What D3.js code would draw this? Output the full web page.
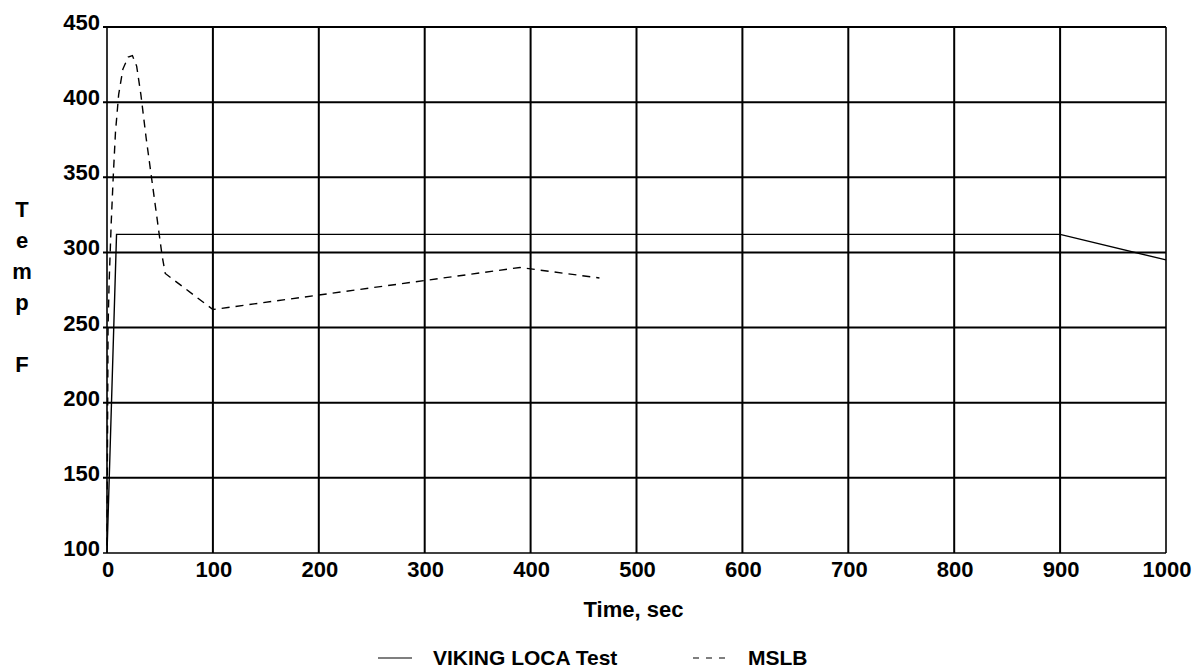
<!DOCTYPE html>
<html>
<head>
<meta charset="utf-8">
<script src="https://cdn.jsdelivr.net/npm/d3@7"></script>
<style>
  body { margin: 0; background: #fff; }
  text { font-family: "Liberation Sans", Arial, sans-serif; font-weight: bold; fill: #000; }
</style>
</head>
<body>
<svg id="chart" width="1197" height="671"></svg>
<script>
// time (sec) ticks and temperature (F) ticks
const xTicks = [0, 100, 200, 300, 400, 500, 600, 700, 800, 900, 1000];
const yTicks = [100, 150, 200, 250, 300, 350, 400, 450];

// VIKING LOCA Test, solid
const vikingTime = [0, 9, 900, 1000];
const vikingTemp = [100, 312, 312, 295];

// MSLB, dashed
const mslbTime = [0, 1, 2, 4, 6, 8, 11, 15, 20, 24, 28, 32, 37, 42, 47, 52, 55, 100, 390, 465];
const mslbTemp = [105, 250, 280, 320, 352, 380, 405, 422, 430, 431, 424, 405, 376, 350, 324, 298, 286, 262, 290, 283];

const yTitle = ["T", "e", "m", "p", "", "F"];

const svg = d3.select('#chart');
const margin = {left: 107, top: 27, right: 1166, bottom: 553};

const x = d3.scaleLinear().domain([0, 1000]).range([margin.left, margin.right]);
const y = d3.scaleLinear().domain([100, 450]).range([margin.bottom, margin.top]);

// grid
const grid = svg.append('g');
grid.selectAll('line.v')
    .data(xTicks).enter()
    .append('line')
    .attr('x1', d => x(d)).attr('x2', d => x(d))
    .attr('y1', y(100)).attr('y2', y(450))
    .attr('stroke', '#000')
    .attr('stroke-width', d => (d === 0 || d === 1000) ? 1.6 : 2);
grid.selectAll('line.h')
    .data(yTicks).enter()
    .append('line')
    .attr('x1', x(0) - 4).attr('x2', x(1000))
    .attr('y1', d => y(d)).attr('y2', d => y(d))
    .attr('stroke', '#000')
    .attr('stroke-width', d => d === 100 ? 1.4 : 2);

// tick labels
svg.append('g').selectAll('text')
    .data(yTicks).enter()
    .append('text')
    .attr('x', 100)
    .attr('y', d => y(d) + 3)
    .attr('text-anchor', 'end')
    .style('font-size', '22px')
    .text(d => d);

svg.append('g').selectAll('text')
    .data(xTicks).enter()
    .append('text')
    .attr('x', d => x(d) + 1)
    .attr('y', 577)
    .attr('text-anchor', 'middle')
    .style('font-size', '22px')
    .text(d => d);

// axis titles
svg.append('text')
    .attr('x', x(500) - 3)
    .attr('y', 617)
    .attr('text-anchor', 'middle')
    .style('font-size', '22px')
    .text('Time, sec');

svg.append('g').selectAll('text')
    .data(yTitle).enter()
    .append('text')
    .attr('x', 22)
    .attr('y', (d, i) => 217 + i * 31)
    .attr('text-anchor', 'middle')
    .style('font-size', '22px')
    .text(d => d);

// series
const line = d3.line()
    .x(d => x(d[0]))
    .y(d => y(d[1]));

svg.append('path')
    .datum(d3.zip(vikingTime, vikingTemp))
    .attr('d', line)
    .attr('fill', 'none')
    .attr('stroke', '#000')
    .attr('stroke-width', 1.4);

svg.append('path')
    .datum(d3.zip(mslbTime, mslbTemp))
    .attr('d', line)
    .attr('fill', 'none')
    .attr('stroke', '#000')
    .attr('stroke-width', 1.4)
    .attr('stroke-dasharray', '8,6');

// legend
const legend = svg.append('g');
legend.append('line')
    .attr('x1', 378).attr('x2', 412).attr('y1', 658).attr('y2', 658)
    .attr('stroke', '#000').attr('stroke-width', 1.2);
legend.append('text')
    .attr('x', 433).attr('y', 665)
    .style('font-size', '21px')
    .text('VIKING LOCA Test');
legend.append('line')
    .attr('x1', 693).attr('x2', 726).attr('y1', 658).attr('y2', 658)
    .attr('stroke', '#000').attr('stroke-width', 1.2)
    .attr('stroke-dasharray', '6,7');
legend.append('text')
    .attr('x', 748).attr('y', 665)
    .style('font-size', '21px')
    .text('MSLB');
</script>
</body>
</html>
